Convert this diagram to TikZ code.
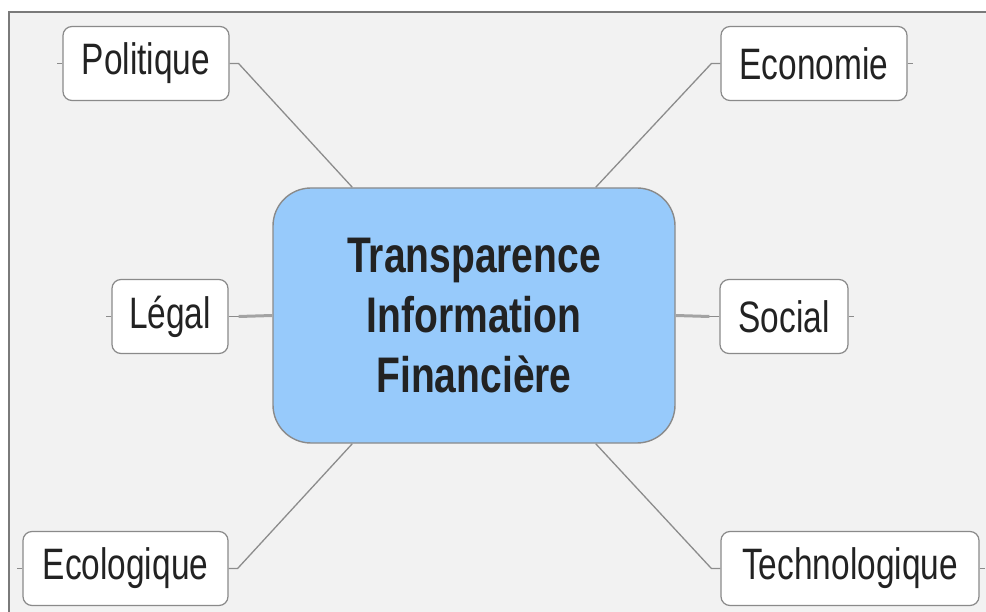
\documentclass[tikz,border=0pt]{standalone}
\usepackage{fontspec}
\newfontfamily\leaffont[FakeStretch=0.76]{Liberation Sans}
\newfontfamily\hubfont[FakeStretch=0.78]{Liberation Sans}
\definecolor{bg}{HTML}{F2F2F2}
\definecolor{frame}{HTML}{7A7A7A}
\definecolor{boxline}{HTML}{8A8A8A}
\definecolor{link}{HTML}{8C8C8C}
\definecolor{hubfill}{HTML}{97CAFB}
\definecolor{txt}{HTML}{222222}
\begin{document}
\begin{tikzpicture}[x=1pt,y=-1pt,
  leaf/.style={draw=boxline, line width=1.2pt, fill=white, rounded corners=9pt,
    minimum height=74pt, inner sep=0pt, text=txt,
    font=\leaffont\fontsize{44}{50}\selectfont},
  hub/.style={draw=boxline, line width=1.4pt, fill=hubfill, rounded corners=38pt,
    minimum width=402pt, minimum height=255pt, inner sep=0pt, text=txt, align=center,
    font=\hubfont\bfseries\fontsize{50}{60}\selectfont},
  link/.style={draw=link, line width=1.3pt},
  stub/.style={draw=link, line width=1.2pt}]
\useasboundingbox (0,0) rectangle (986,612);
\fill[white] (0,0) rectangle (986,612);
\fill[bg] (9,12) rectangle (986,612);
\draw[frame, line width=2pt] (9,612) -- (9,12) -- (986,12);

\node[hub] (c) at (474,315.5) {Transparence\\Information\\Financière};

\node[leaf, minimum width=166pt] (pol) at (146,63.5) {Politique};
\node[leaf, minimum width=186pt] (eco) at (814,63.5) {Economie};
\node[leaf, minimum width=116pt] (leg) at (170,316.5) {Légal};
\node[leaf, minimum width=128pt] (soc) at (784,316.5) {Social};
\node[leaf, minimum width=205pt] (ecol) at (125.5,568.5) {Ecologique};
\node[leaf, minimum width=258pt] (tech) at (850,568.5) {Technologique};

\coordinate (cnw) at ([xshift=80pt]c.north west);
\coordinate (cne) at ([xshift=-80pt]c.north east);
\coordinate (csw) at ([xshift=80pt]c.south west);
\coordinate (cse) at ([xshift=-80pt]c.south east);

\draw[link] (pol.east) -- ++(9,0) -- (cnw);
\draw[link] (eco.west) -- ++(-9,0) -- (cne);
\draw[link] (ecol.east) -- ++(9,0) -- (csw);
\draw[link] (tech.west) -- ++(-9,0) -- (cse);
\draw[link] (leg.east) -- ++(10,0);
\draw[link, line width=3pt, draw=link!80] ([xshift=10pt]leg.east) -- (c.west);
\draw[link] (soc.west) -- ++(-10,0);
\draw[link, line width=3pt, draw=link!80] ([xshift=-10pt]soc.west) -- (c.east);

\draw[stub] (pol.west) -- ++(-5,0);
\draw[stub] (leg.west) -- ++(-5,0);
\draw[stub] (ecol.west) -- ++(-5,0);
\draw[stub] (eco.east) -- ++(5,0);
\draw[stub] (soc.east) -- ++(5,0);
\draw[stub] (tech.east) -- ++(5,0);
\end{tikzpicture}
\end{document}
